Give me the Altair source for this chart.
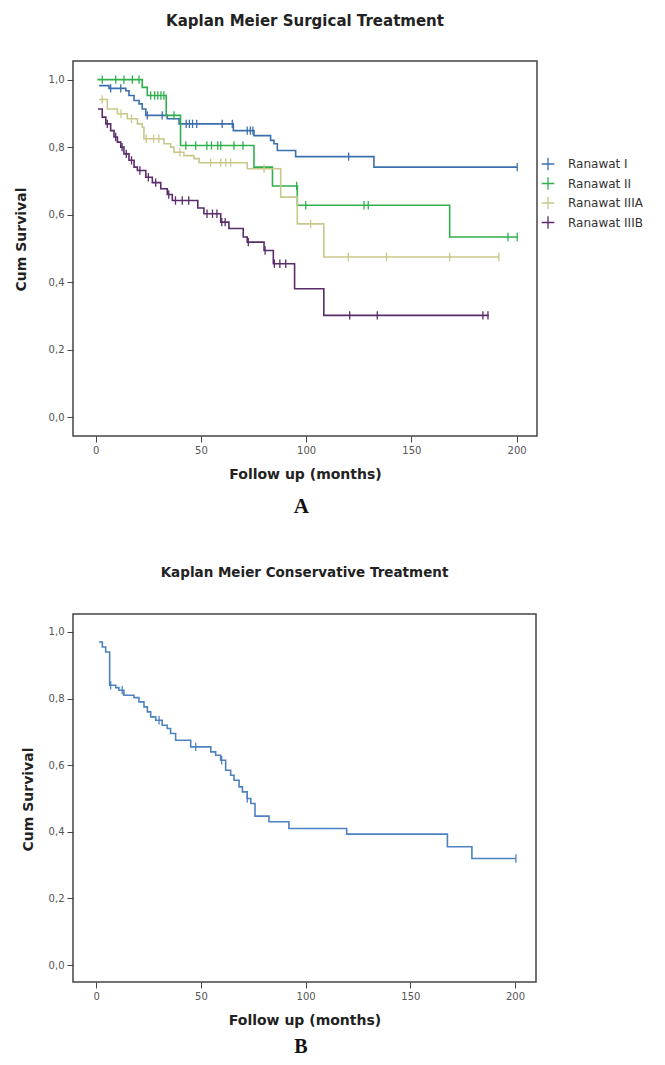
import altair as alt
import numpy as np
import pandas as pd

FONT = "DejaVu Sans"
SERIF = "Liberation Serif"

groups = ["Ranawat I", "Ranawat II", "Ranawat IIIA", "Ranawat IIIB"]
colors = ["#3b6fae", "#2fb04c", "#c8c88a", "#5a2c6a"]

# Panel A: Kaplan-Meier steps (time in months, cumulative survival)
I_time = [1.6, 6.3, 14.3, 15.8, 18.2, 20.6, 22.1, 23.8, 34.0, 39.6, 65.4, 75.2, 83.1, 84.7, 86.3, 95.0, 132.2, 200.3]
I_surv = [0.982, 0.974, 0.967, 0.953, 0.938, 0.928, 0.913, 0.894, 0.884, 0.869, 0.849, 0.834, 0.820, 0.810, 0.790, 0.772, 0.741, 0.741]
I_cens = [7.1, 11.9, 24.5, 31.6, 43.0, 44.5, 46.0, 48.0, 60.1, 64.9, 72.0, 73.5, 74.7, 120.2, 200.3]

II_time = [0.8, 22.1, 24.5, 33.5, 40.3, 75.2, 84.0, 95.8, 168.2, 200.3]
II_surv = [1.0, 0.977, 0.953, 0.894, 0.805, 0.741, 0.685, 0.628, 0.534, 0.534]
II_cens = [3.1, 9.5, 13.4, 17.4, 20.6, 26.1, 28.0, 29.5, 31.0, 32.4, 37.2, 42.8, 47.5, 52.8, 55.0,
           58.0, 59.4, 65.7, 70.0, 95.5, 99.8, 127.5, 129.5, 195.9, 200.3]

IIIA_time = [1.6, 5.5, 10.3, 15.0, 19.8, 22.1, 22.9, 32.4, 35.6, 37.2, 41.9, 46.7, 49.1, 72.0, 87.9, 95.8, 108.4, 191.6]
IIIA_surv = [0.941, 0.913, 0.899, 0.884, 0.869, 0.859, 0.825, 0.810, 0.800, 0.785, 0.775, 0.766, 0.754, 0.736, 0.652, 0.573, 0.475, 0.475]
IIIA_cens = [3.1, 12.0, 17.0, 24.0, 27.5, 30.0, 40.0, 54.6, 59.4, 61.8, 64.1, 80.0, 102.1, 120.0, 138.2, 168.2, 191.6]

IIIB_time = [1.1, 3.1, 4.8, 7.1, 8.7, 10.3, 11.9, 13.4, 15.8, 18.2, 19.8, 23.8, 26.9, 30.9, 34.0, 36.4,
             48.5, 51.4, 59.4, 63.3, 70.1, 72.0, 80.0, 84.4, 94.5, 108.4, 186.8]
IIIB_surv = [0.913, 0.889, 0.869, 0.849, 0.830, 0.815, 0.800, 0.780, 0.761, 0.741, 0.731, 0.711, 0.695, 0.677,
             0.660, 0.642, 0.620, 0.603, 0.578, 0.559, 0.534, 0.519, 0.494, 0.455, 0.381, 0.302, 0.302]
IIIB_cens = [5.5, 9.5, 12.5, 14.5, 17.0, 21.0, 25.0, 28.5, 34.7, 37.9, 41.1, 44.2, 52.9, 55.5, 57.6, 59.9,
             61.5, 72.5, 80.5, 84.9, 87.5, 90.3, 120.7, 133.8, 184.0, 186.4]

# Panel B: conservative treatment
B_time = [1.3, 2.9, 4.5, 6.4, 9.3, 10.8, 13.2, 18.0, 20.4, 22.8, 24.4, 26.0, 28.4, 31.5, 33.9, 35.5, 37.9,
          45.1, 54.7, 57.0, 59.4, 61.8, 64.2, 65.8, 68.2, 69.8, 72.1, 73.8, 75.8, 82.5, 92.0, 119.6, 167.7,
          179.4, 200.4]
B_surv = [0.970, 0.955, 0.940, 0.840, 0.833, 0.825, 0.810, 0.803, 0.790, 0.775, 0.760, 0.745, 0.735, 0.720,
          0.710, 0.695, 0.675, 0.655, 0.640, 0.630, 0.615, 0.585, 0.570, 0.555, 0.535, 0.520, 0.500, 0.485,
          0.447, 0.430, 0.410, 0.393, 0.355, 0.320, 0.320]
B_cens = [6.9, 12.4, 30.0, 47.5, 59.9, 72.1, 200.4]

y_ticks = [0.0, 0.2, 0.4, 0.6, 0.8, 1.0]
x_ticks = [0, 50, 100, 150, 200]


def step_level(times, survs, c):
    i = int(np.searchsorted(np.array(times), c, side="right")) - 1
    return survs[max(i, 0)]


def build(name, times, survs, cens):
    lines = pd.DataFrame({"group": name, "time": times, "surv": survs})
    cdf = pd.DataFrame({"group": name, "time": cens,
                        "surv": [step_level(times, survs, c) for c in cens]})
    return lines, cdf


series = [("Ranawat I", I_time, I_surv, I_cens), ("Ranawat II", II_time, II_surv, II_cens),
          ("Ranawat IIIA", IIIA_time, IIIA_surv, IIIA_cens), ("Ranawat IIIB", IIIB_time, IIIB_surv, IIIB_cens)]
parts = [build(*s) for s in series]
linesA = pd.concat([p[0] for p in parts], ignore_index=True)
censA = pd.concat([p[1] for p in parts], ignore_index=True)
linesB, censB = build("Conservative", B_time, B_surv, B_cens)

W1, H1 = 464, 375
W2, H2 = 463, 368
CROSS = "M-1,0H1M0,-1V1"
VTICK = "M0,-1V1"
LABEL_EXPR = "replace(format(datum.value, '.1f'), '.', ',')"


def x_enc(dom):
    return alt.X("time:Q", scale=alt.Scale(domain=dom, nice=False, zero=False),
                 axis=alt.Axis(values=x_ticks, title="Follow up (months)", titlePadding=12))


def y_enc(dom, tx, ty):
    return alt.Y("surv:Q", scale=alt.Scale(domain=dom, nice=False, zero=False),
                 axis=alt.Axis(values=y_ticks, labelExpr=LABEL_EXPR, title="Cum Survival",
                               titleX=tx, titleY=ty, titleBaseline="middle"))


color_enc = alt.Color("group:N", scale=alt.Scale(domain=groups, range=colors),
                      legend=alt.Legend(orient="none", legendX=W1 + 4, legendY=96, title=None,
                                        symbolType=CROSS, symbolSize=160, symbolStrokeWidth=1.3,
                                        labelFont=FONT, labelFontSize=12, labelColor="#333",
                                        rowPadding=1.5, labelOffset=13))

xdomA, ydomA = [-10.8, 209.7], [-0.055, 1.055]
yA = y_enc(ydomA, -51.5, 178)
lineA = alt.Chart(linesA).mark_line(interpolate="step-after", strokeWidth=1.6).encode(
    x=x_enc(xdomA), y=yA, color=color_enc, detail="group:N")
pointA = alt.Chart(censA).mark_point(shape=VTICK, size=70, filled=False, strokeWidth=1.3, opacity=1).encode(
    x=x_enc(xdomA), y=yA,
    color=alt.Color("group:N", scale=alt.Scale(domain=groups, range=colors), legend=None))
chartA = alt.layer(lineA, pointA).properties(
    width=W1, height=H1,
    title=alt.TitleParams("Kaplan Meier Surgical Treatment", font=FONT, fontSize=15, fontWeight="bold",
                          color="#222", anchor="middle", frame="group", offset=32))
panelA = alt.vconcat(chartA).properties(
    title=alt.TitleParams("A", orient="bottom", font=SERIF, fontSize=21, fontWeight="bold",
                          color="#111", anchor="start", dx=280, offset=14))

xdomB, ydomB = [-11.1, 210.0], [-0.051, 1.054]
yB = y_enc(ydomB, -45, 185)
lineB = alt.Chart(linesB).mark_line(interpolate="step-after", strokeWidth=1.6, color="#4d82bf").encode(
    x=x_enc(xdomB), y=yB)
pointB = alt.Chart(censB).mark_point(shape=VTICK, size=70, filled=False, strokeWidth=1.3, opacity=1,
                                     color="#4d82bf").encode(x=x_enc(xdomB), y=yB)
chartB = alt.layer(lineB, pointB).properties(
    width=W2, height=H2,
    title=alt.TitleParams("Kaplan Meier Conservative Treatment", font=FONT, fontSize=13.5, fontWeight="bold",
                          color="#222", anchor="middle", frame="group", offset=34.5))
panelB = alt.vconcat(chartB).properties(
    title=alt.TitleParams("B", orient="bottom", font=SERIF, fontSize=20, fontWeight="bold",
                          color="#111", anchor="start", dx=274, offset=9))

chart = alt.concat(panelA, panelB, columns=1, spacing=48, align="none").properties(
    padding={"left": 5, "top": 5, "right": 0, "bottom": 0}
).configure_view(stroke="#444", strokeWidth=1.5).configure_axis(
    domain=False, grid=False, tickColor="#444", tickSize=6, tickWidth=1,
    labelFont=FONT, labelFontSize=10, labelColor="#555", labelPadding=3,
    titleFont=FONT, titleFontSize=14, titleFontWeight="bold", titleColor="#222"
)

chart.save("out.html", embed_options={"renderer": "svg", "actions": False})
